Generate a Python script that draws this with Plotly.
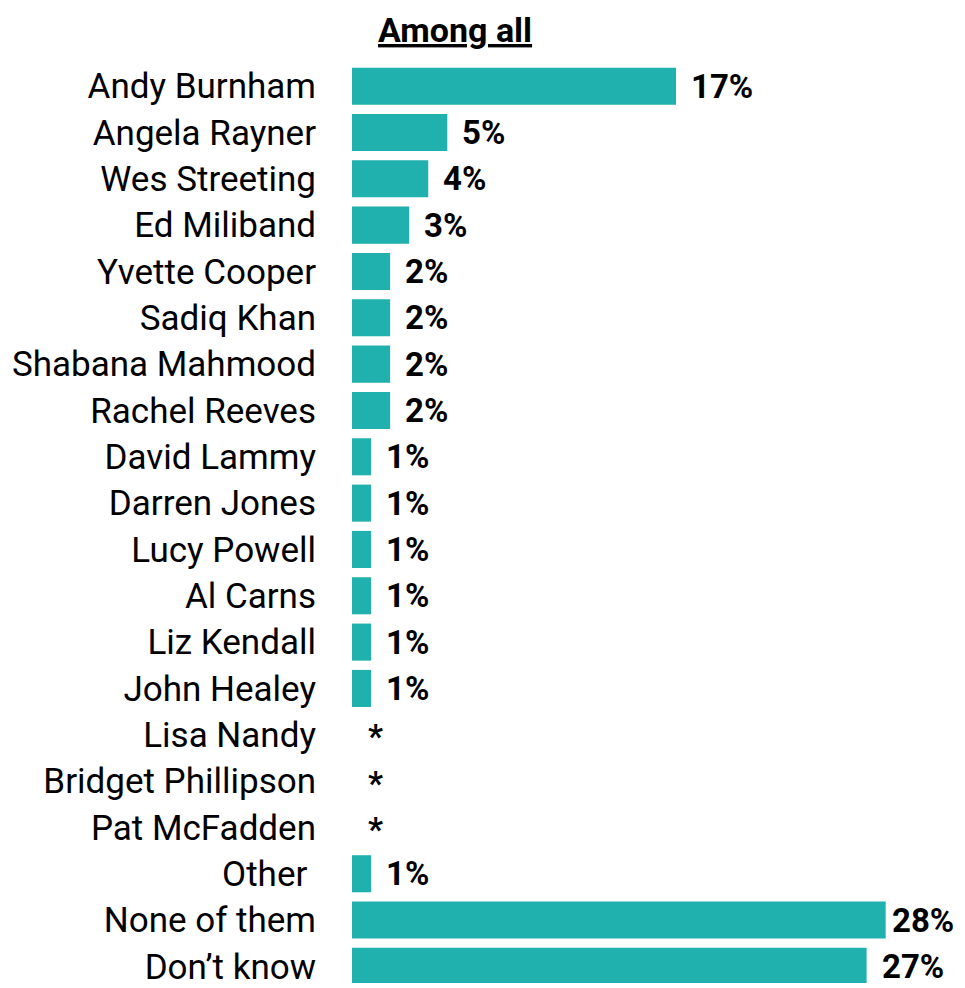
import plotly.graph_objects as go

categories = ["Andy Burnham", "Angela Rayner", "Wes Streeting", "Ed Miliband", "Yvette Cooper",
              "Sadiq Khan", "Shabana Mahmood", "Rachel Reeves", "David Lammy", "Darren Jones",
              "Lucy Powell", "Al Carns", "Liz Kendall", "John Healey", "Lisa Nandy",
              "Bridget Phillipson", "Pat McFadden", "Other ", "None of them", "Don\u2019t know"]
values = [17, 5, 4, 3, 2, 2, 2, 2, 1, 1, 1, 1, 1, 1, 0, 0, 0, 1, 28, 27]
labels = ["17%", "5%", "4%", "3%", "2%", "2%", "2%", "2%", "1%", "1%", "1%", "1%", "1%", "1%",
          "*", "*", "*", "1%", "28%", "27%"]
title = "Among all"

BAR = "#20B0AE"
FONT = "Roboto, Arial, sans-serif"

W, H = 957, 980
ML, MR, MT, MB = 344, 0, 55, 0
PW, PH = W - ML - MR, H - MT - MB

fig = go.Figure(go.Bar(
    x=values, y=categories, orientation="h",
    marker=dict(color=BAR, line=dict(width=0)),
    width=0.8, hoverinfo="skip",
))

vmax = max(values)
annotations = []
for c, v, t in zip(categories, values, labels):
    if t == "*":
        xs = 14
    elif v == vmax:
        xs = 4   # nudged in so the largest label fits
    else:
        xs = 13
    annotations.append(dict(
        x=v, y=c, xref="x", yref="y", text="<b>%s</b>" % t, showarrow=False,
        xanchor="left", yanchor="middle", xshift=xs,
        yshift=-2 if t == "*" else 0,
        font=dict(family=FONT, size=33, color="#000000"),
    ))
annotations.append(dict(
    x=(447 - ML) / PW, y=1 + MT / PH, xref="paper", yref="paper",
    text="<b><u>%s</u></b>" % title, showarrow=False,
    xanchor="center", yanchor="top", font=dict(family=FONT, size=34, color="#000000"),
))

fig.update_layout(
    width=W, height=H,
    margin=dict(l=ML, r=MR, t=MT, b=MB, pad=0),
    paper_bgcolor="white", plot_bgcolor="white",
    showlegend=False,
    xaxis=dict(range=[0, PW / 19.06], visible=False, fixedrange=True),
    yaxis=dict(range=[-0.5 + PH / 46.58, -0.5], showgrid=False, zeroline=False, showline=False,
               ticks="", ticklabelstandoff=35,
               tickfont=dict(family=FONT, size=35, color="#000000"), fixedrange=True),
    annotations=annotations,
)

fig.write_html("out.html")
